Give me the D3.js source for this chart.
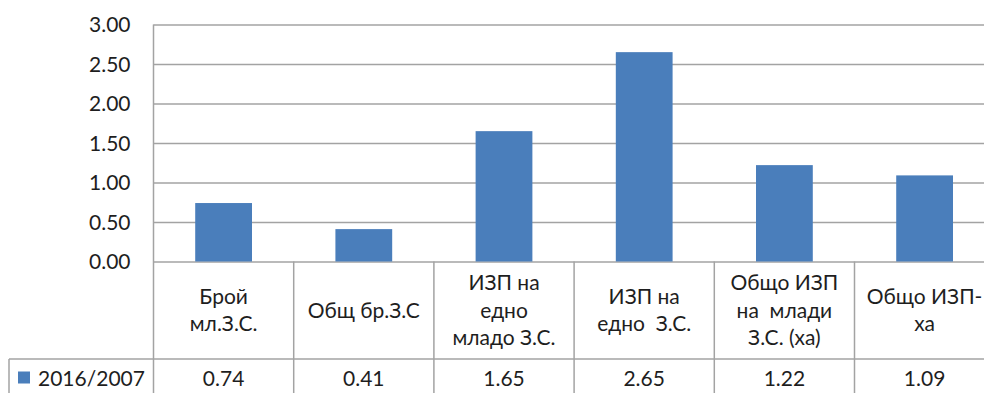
<!DOCTYPE html>
<html>
<head>
<meta charset="utf-8">
<script src="https://cdn.jsdelivr.net/npm/d3@7"></script>
<style>
  html, body { margin: 0; padding: 0; background: #fff; }
  svg { display: block; font-family: Lato, "Noto Sans", sans-serif; }
</style>
</head>
<body>
<svg id="chart" width="984" height="393"></svg>
<script>
// Category labels, one entry per line of the wrapped label
const categories = [
  ["Брой", "мл.З.С."],
  ["Общ бр.З.С"],
  ["ИЗП на", "едно", "младо З.С."],
  ["ИЗП на", "едно  З.С."],
  ["Общо ИЗП", "на  млади", "З.С. (ха)"],
  ["Общо ИЗП-", "ха"]
];
const seriesName = "2016/2007";
const values = [0.74, 0.41, 1.65, 2.65, 1.22, 1.09];
const yTicks = [0, 0.5, 1, 1.5, 2, 2.5, 3];

const svg = d3.select("#chart");
const W = 984, H = 393;
const plotLeft = 153.5, plotTop = 24.5, plotBottom = 261.5;
const colW = 140.2;
const plotRight = plotLeft + colW * categories.length;   // runs past the canvas edge
const rowTop = 359;
const lineColor = "#a3a3a3";
const textColor = "#1e1e1e";
const barColor = "#4a7ebb";
const fontSize = 21;

const x = d3.scaleBand()
  .domain(d3.range(categories.length))
  .range([plotLeft, plotRight])
  .padding(0);

const y = d3.scaleLinear().domain([0, 3]).range([plotBottom, plotTop]);

// Gridlines and value labels from the y axis
const yAxis = d3.axisLeft(y)
  .tickValues(yTicks)
  .tickFormat(d3.format(".2f"))
  .tickSizeInner(-(plotRight - plotLeft))
  .tickSizeOuter(0)
  .tickPadding(23);

const gy = svg.append("g")
  .attr("transform", `translate(${plotLeft},0)`)
  .call(yAxis);
gy.select(".domain").remove();
gy.selectAll(".tick line")
  .attr("stroke", lineColor)
  .attr("stroke-width", 1.5);
gy.selectAll(".tick text")
  .attr("fill", textColor)
  .attr("font-size", fontSize)
  .attr("font-family", "Lato, 'Noto Sans', sans-serif")
  .attr("dy", "0.35em");

// Bars
const barFrac = 0.405;
svg.append("g").selectAll("rect")
  .data(values)
  .join("rect")
  .attr("x", (d, i) => x(i) + x.bandwidth() * (1 - barFrac) / 2)
  .attr("width", x.bandwidth() * barFrac)
  .attr("y", d => y(d))
  .attr("height", d => y(0) - y(d))
  .attr("fill", barColor);

// Data table grid
const grid = svg.append("g")
  .attr("stroke", lineColor)
  .attr("stroke-width", 1.5)
  .attr("fill", "none");

// vertical axis line down through the table
grid.append("line")
  .attr("x1", plotLeft).attr("x2", plotLeft)
  .attr("y1", plotTop).attr("y2", H);
// column separators inside the table
grid.selectAll("line.sep")
  .data(d3.range(1, categories.length + 1))
  .join("line")
  .attr("class", "sep")
  .attr("x1", i => x(i - 1) + x.bandwidth())
  .attr("x2", i => x(i - 1) + x.bandwidth())
  .attr("y1", plotBottom).attr("y2", H);
// series row: top border and left border of the legend cell
const legendLeft = 9;
grid.append("line")
  .attr("x1", legendLeft).attr("x2", plotRight)
  .attr("y1", rowTop).attr("y2", rowTop);
grid.append("line")
  .attr("x1", legendLeft).attr("x2", legendLeft)
  .attr("y1", rowTop).attr("y2", H);

// Category labels, vertically centred in the header row
const lineH = 27.5;
const headMid = (plotBottom + rowTop) / 2;
const labels = svg.append("g")
  .attr("fill", textColor)
  .attr("font-size", fontSize)
  .attr("text-anchor", "middle");
categories.forEach((lines, i) => {
  const cx = x(i) + x.bandwidth() / 2;
  const first = headMid - (lines.length - 1) * lineH / 2;
  lines.forEach((t, k) => {
    labels.append("text")
      .attr("x", cx)
      .attr("y", first + k * lineH)
      .attr("dy", "0.35em")
      .attr("xml:space", "preserve")
      .style("white-space", "pre")
      .text(t);
  });
});

// Series row: legend key, name and values
const rowBase = 386;
svg.append("rect")
  .attr("x", 18).attr("y", 371.5)
  .attr("width", 12).attr("height", 12)
  .attr("fill", barColor);
svg.append("text")
  .attr("x", 38).attr("y", rowBase)
  .attr("fill", textColor)
  .attr("font-size", fontSize)
  .text(seriesName);
svg.append("g")
  .attr("fill", textColor)
  .attr("font-size", fontSize)
  .attr("text-anchor", "middle")
  .selectAll("text")
  .data(values)
  .join("text")
  .attr("x", (d, i) => x(i) + x.bandwidth() / 2)
  .attr("y", rowBase)
  .text(d => d3.format(".2f")(d));
</script>
</body>
</html>
